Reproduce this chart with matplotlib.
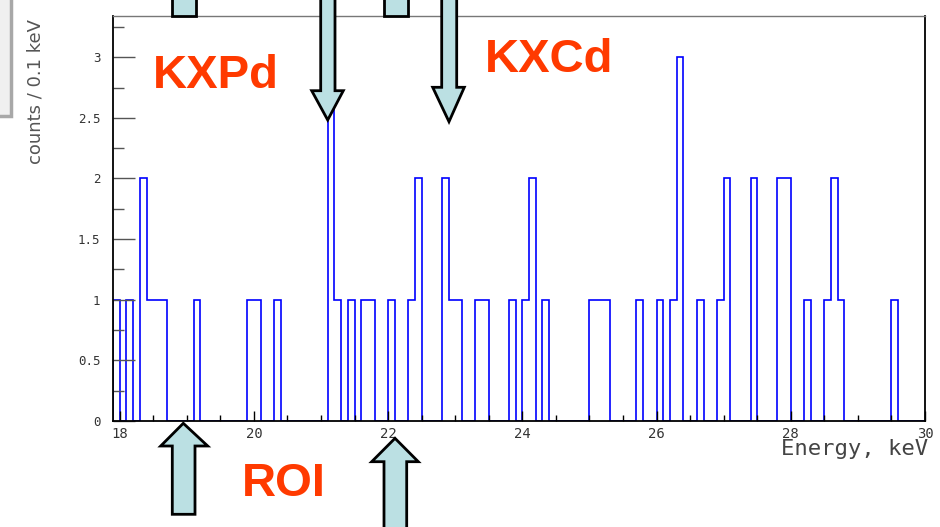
import numpy as np
import matplotlib
matplotlib.use("Agg")
from matplotlib import pyplot as plt
from matplotlib.patches import Polygon, Rectangle

# counts per 0.1 keV bin, first bin starts at 17.9 keV
bin_start = 17.9
bin_width = 0.1
counts = [
    1,
    0, 1, 0, 2, 1, 1, 1, 0, 0, 0,   # 18.0 - 18.9
    0, 1, 0, 0, 0, 0, 0, 0, 0, 1,   # 19.0 - 19.9
    1, 0, 0, 1, 0, 0, 0, 0, 0, 0,   # 20.0 - 20.9
    0, 3, 1, 0, 1, 0, 1, 1, 0, 0,   # 21.0 - 21.9
    1, 0, 0, 1, 2, 0, 0, 0, 2, 1,   # 22.0 - 22.9
    1, 0, 0, 1, 1, 0, 0, 0, 1, 0,   # 23.0 - 23.9
    1, 2, 0, 1, 0, 0, 0, 0, 0, 0,   # 24.0 - 24.9
    1, 1, 1, 0, 0, 0, 0, 1, 0, 0,   # 25.0 - 25.9
    1, 0, 1, 3, 0, 0, 1, 0, 0, 1,   # 26.0 - 26.9
    2, 0, 0, 0, 2, 0, 0, 0, 2, 2,   # 27.0 - 27.9
    0, 0, 1, 0, 0, 1, 2, 1, 0, 0,   # 28.0 - 28.9
    0, 0, 0, 0, 0, 1, 0, 0, 0, 0,   # 29.0 - 29.9
]
x_ticks = [18, 20, 22, 24, 26, 28, 30]
y_ticks = [0, 0.5, 1, 1.5, 2, 2.5, 3]
y_tick_labels = ["0", "0.5", "1", "1.5", "2", "2.5", "3"]

edges = np.round(bin_start + bin_width * np.arange(len(counts) + 1), 2)

W, H = 940, 527
fig = plt.figure(figsize=(W / 100, H / 100), dpi=100)


def px(x, y):
    # pixel position (y measured from the top) -> figure fraction
    return (x / W, 1 - y / H)


# frame: 113..925 horizontally, 16..421 vertically
ax = fig.add_axes([113 / W, 1 - 421 / H, (925 - 113) / W, (421 - 16) / H])
ax.stairs(counts, edges, baseline=0, color="#0000ff", linewidth=1.2)
ax.set_xlim(17.9, 30.0)
ax.set_ylim(0, 3.34)

mono = "DejaVu Sans Mono"
ax.set_xticks(x_ticks)
ax.set_xticklabels([str(t) for t in x_ticks], family=mono, fontsize=10, color="#333333")
ax.set_xticks(np.arange(18, 30.01, 0.5), minor=True)
ax.set_yticks(y_ticks)
ax.set_yticklabels(y_tick_labels, family=mono, fontsize=9, color="#333333")
ax.set_yticks(np.arange(0, 3.3, 0.25), minor=True)
ax.tick_params(axis="x", which="major", direction="in", length=7, width=1, pad=4)
ax.tick_params(axis="x", which="minor", direction="in", length=4, width=1)
ax.tick_params(axis="y", which="major", direction="in", length=16, width=1,
               pad=9, color="#555555")
ax.tick_params(axis="y", which="minor", direction="in", length=8, width=1,
               color="#555555")
for side in ["left", "bottom", "right"]:
    ax.spines[side].set_color("black")
    ax.spines[side].set_linewidth(1.3)
ax.spines["top"].set_color("#777777")
ax.spines["top"].set_linewidth(1.0)

fig.text(*px(928, 449), "Energy, keV", family=mono, fontsize=16,
         color="#444444", ha="right", va="center")
fig.text(*px(36, 92), "counts / 0.1 keV", family="DejaVu Sans", fontsize=13,
         color="#555555", rotation=90, ha="center", va="center")

# grey box clipped at the top left corner
fig.add_artist(Rectangle(px(-5, 116), 16 / W, 125 / H, transform=fig.transFigure,
                         facecolor="#f0f0f0", edgecolor="#a8a8a8", linewidth=2.5))

arrow_fill = "#bbe0e3"


def block_arrow(x0, x1, y_end, y_hb, hl, hr, tx, ty):
    # shaft from y_end to the head base, head ending in a tip at (tx, ty)
    pts = [(x0, y_end), (x1, y_end), (x1, y_hb), (hr, y_hb), (tx, ty),
           (hl, y_hb), (x0, y_hb)]
    fig.add_artist(Polygon([px(*p) for p in pts], closed=True,
                           transform=fig.transFigure, facecolor=arrow_fill,
                           edgecolor="black", linewidth=2, zorder=5))


# stubs of shafts poking out above the frame
for xl, xr in [(172, 196), (383.5, 407.5)]:
    fig.add_artist(Rectangle(px(xl, 15.5), (xr - xl) / W, 20 / H,
                             transform=fig.transFigure, facecolor=arrow_fill,
                             edgecolor="black", linewidth=2, zorder=5))

block_arrow(320.7, 335, -5, 90.7, 311.7, 343.3, 327.7, 120)
block_arrow(441.7, 456.7, -5, 87.3, 432.7, 464.3, 449, 121.7)
block_arrow(172.3, 195, 514.3, 446, 160.7, 207.7, 183.3, 423.3)
block_arrow(384, 406.7, 535, 461.7, 371.7, 418.3, 395, 438.3)

red = "#ff3a00"
bold = dict(family=["Liberation Sans", "DejaVu Sans"], fontweight="bold",
            fontsize=34, color=red, ha="left", va="baseline")
fig.text(*px(153, 87.5), "KXPd", **bold)
fig.text(*px(485, 72), "KXCd", **bold)
fig.text(*px(242, 496), "ROI", **bold)

fig.savefig("out.png", dpi=100)
